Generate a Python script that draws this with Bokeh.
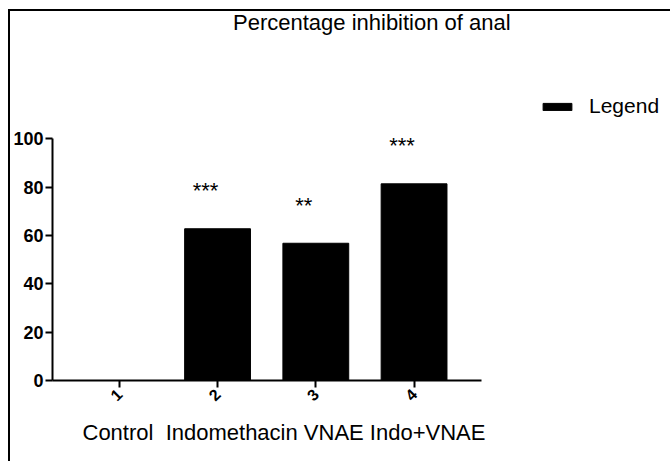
import math
from bokeh.plotting import figure
from bokeh.layouts import column
from bokeh.models import ColumnDataSource, Range1d, FixedTicker, Label, Legend, LegendItem, Title
from bokeh.core.properties import value
from bokeh.embed import file_html
from bokeh.resources import INLINE

# ---- data ----
groups = [1, 2, 3, 4]
categories = ["Control", "Indomethacin", "VNAE", "Indo+VNAE"]
inhibition = [0.0, 62.8, 56.8, 81.4]
significance = ["", "***", "**", "***"]
y_ticks = [0, 20, 40, 60, 80, 100]
tick_labels = ["1", "2", "3", "4"]
title_text = "Percentage inhibition of anal"
legend_text = "Legend"
xlabel_text = categories[0] + "\u00a0 " + " ".join(categories[1:])

FONT = "Liberation Sans"
STAR_GAP = 15.8
X_BOUNDS = (0.32, 4.69)
Y_BOUNDS = (0, 100)

src = ColumnDataSource(dict(
    x=groups,
    top=inhibition,
    star_y=[v + STAR_GAP for v in inhibition],
    sig=significance,
))

p = figure(width=660, height=450, output_backend="svg", toolbar_location=None,
           x_range=Range1d(0.32, 6.61), y_range=Range1d(0, 152.3),
           min_border_left=40, min_border_top=1, min_border_right=0, min_border_bottom=81)
p.outline_line_color = None
p.background_fill_color = "white"
p.border_fill_color = "white"
p.xgrid.visible = False
p.ygrid.visible = False

bars = p.vbar(x="x", top="top", width=0.67, source=src, fill_color="black", line_color="black")
p.text(x="x", y="star_y", text="sig", source=src, text_align="center", text_baseline="middle",
       text_font=value(FONT), text_font_size="22px", text_color="black", x_offset=-12)

# axes
for ax in (p.xaxis[0], p.yaxis[0]):
    ax.axis_line_width = 2
    ax.axis_line_color = "black"
    ax.major_tick_line_width = 2
    ax.major_tick_line_color = "black"
    ax.major_tick_in = 0
    ax.major_tick_out = 7
    ax.minor_tick_line_color = None
    ax.major_label_text_font = FONT
    ax.major_label_text_color = "black"
    ax.major_label_text_font_style = "bold"

p.yaxis.bounds = Y_BOUNDS
p.yaxis.ticker = FixedTicker(ticks=y_ticks)
p.yaxis.major_label_text_font_size = "18px"
p.yaxis.major_label_standoff = 2

p.xaxis.bounds = X_BOUNDS
p.xaxis.ticker = FixedTicker(ticks=groups)
p.xaxis.major_label_overrides = {g: t for g, t in zip(groups, tick_labels)}
p.xaxis.major_label_orientation = math.pi / 4
p.xaxis.major_label_text_font_size = "16px"
p.xaxis.major_label_standoff = 4

# title
p.add_layout(Label(x=3.57, y=148.1, text=title_text,
                   text_font=FONT, text_font_size="22px", text_align="center",
                   text_baseline="middle", text_color="black"))

# group names under the axis
p.add_layout(Title(text=xlabel_text, align="left", offset=30, standoff=17,
                   text_font=FONT, text_font_size="22px", text_font_style="normal",
                   text_color="black"), "below")

legend = Legend(items=[LegendItem(label=legend_text, renderers=[bars])],
                location=(487, 262), glyph_width=36, glyph_height=9, label_standoff=14,
                label_text_font=FONT, label_text_font_size="21px", label_height=22,
                label_text_color="black",
                padding=0, margin=0, border_line_color=None, background_fill_alpha=0)
p.add_layout(legend, "center")

page = column(p, styles={"border-left": "2px solid black", "border-top": "2px solid black",
                         "margin-left": "8px", "margin-top": "9px"})

open("out.html", "w").write(file_html(page, INLINE))
